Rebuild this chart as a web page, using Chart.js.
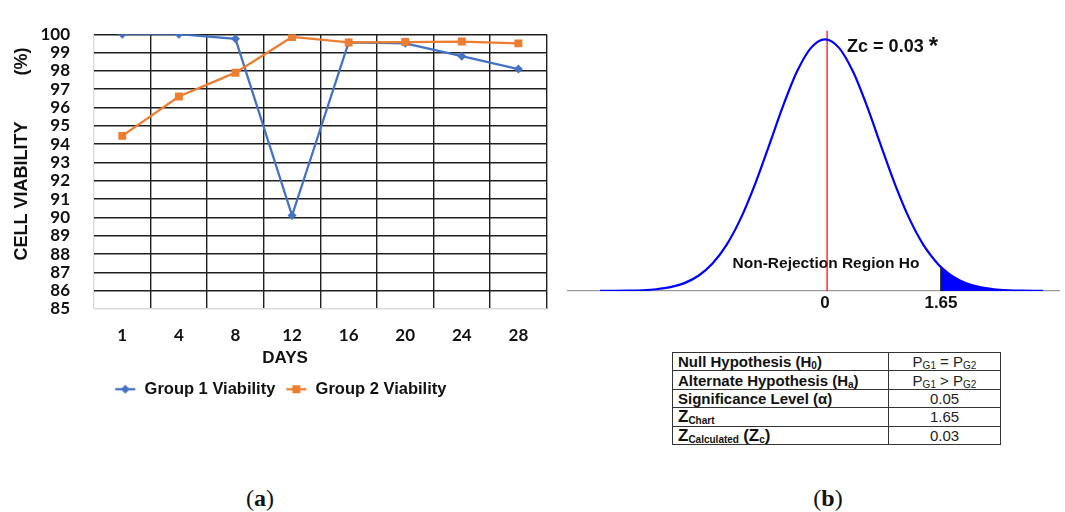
<!DOCTYPE html>
<html>
<head>
<meta charset="utf-8">
<script src="https://cdn.jsdelivr.net/npm/chart.js@4/dist/chart.umd.min.js"></script>
<style>
  html, body { margin: 0; padding: 0; background: #fff; }
  body { width: 1065px; height: 512px; position: relative; overflow: hidden;
         font-family: "Liberation Sans", Arial, sans-serif; color: #111; }
  #viability { position: absolute; left: 0; top: 0; }
  #ztest { position: absolute; left: 567px; top: 0; }
  #hypothesis { position: absolute; left: 672px; top: 352px; width: 329px;
                border-collapse: collapse; table-layout: fixed; font-size: 15px; }
  #hypothesis td { border: 1px solid #333; height: 17.4px; padding: 0 5px; line-height: 17px;
                   white-space: nowrap; overflow: hidden; }
  #hypothesis td.name { width: 205px; font-weight: bold; }
  #hypothesis td.val { text-align: center; color: #222; }
  #hypothesis sub { font-size: 10px; line-height: 0; vertical-align: -2px; }
  #hypothesis .z { font-size: 17px; }
  .panel { position: absolute; top: 484px; font-family: "Liberation Serif", "DejaVu Serif", serif;
           font-size: 24px; line-height: 28px; transform: translateX(-50%); color: #111; }
</style>
</head>
<body>
<canvas id="viability" width="560" height="420"></canvas>
<canvas id="ztest" width="493" height="320"></canvas>
<table id="hypothesis"></table>
<div class="panel" style="left:260px">(<b>a</b>)</div>
<div class="panel" style="left:828px">(<b>b</b>)</div>

<script>
// ---- Cell viability over time ----
const days = ['1', '4', '8', '12', '16', '20', '24', '28'];
const group1Viability = [100, 100, 99.75, 90.1, 99.55, 99.5, 98.8, 98.1];
const group2Viability = [94.45, 96.6, 97.9, 99.85, 99.55, 99.57, 99.6, 99.5];
const viabilityMin = 85;
const viabilityMax = 100;

// ---- Z-test bell curve (height relative to the peak) ----
const curveZ = [-3.2, -3.0, -2.8, -2.6, -2.4, -2.2, -2.0, -1.8, -1.6, -1.4, -1.2, -1.0, -0.8, -0.6, -0.4, -0.2,
                0, 0.2, 0.4, 0.6, 0.8, 1.0, 1.2, 1.4, 1.6, 1.65, 1.8, 2.0, 2.2, 2.4, 2.6, 2.8, 3.0, 3.1];
const curveHeight = [0.00014, 0.00041, 0.00113, 0.00287, 0.00683, 0.0151, 0.0313, 0.0605, 0.109, 0.1833, 0.2875,
                     0.4208, 0.5747, 0.7323, 0.8707, 0.966, 1, 0.966, 0.8707, 0.7323, 0.5747, 0.4208, 0.2875,
                     0.1833, 0.109, 0.0947, 0.0605, 0.0313, 0.0151, 0.00683, 0.00287, 0.00113, 0.00041, 0.00025];
const zAxisLabels = [0, 1.65];
const zChart = 1.65;
const zCalculated = 0.03;
const alphaLevel = 0.05;

const SANS = '"Liberation Sans", Arial, sans-serif';
const BLUE = '#4472C4';
const ORANGE = '#ED7D31';
const GRID = '#202020';
const GRID_EDGE = '#d9d9d9';

// Legend symbols: short line with the series marker on it
function legendSymbol(color, shape) {
  const c = document.createElement('canvas');
  c.width = 22; c.height = 12;
  const g = c.getContext('2d');
  g.strokeStyle = color; g.fillStyle = color; g.lineWidth = 2.3;
  g.beginPath(); g.moveTo(1, 6); g.lineTo(21, 6); g.stroke();
  g.beginPath();
  if (shape === 'diamond') {
    g.moveTo(11, 1.5); g.lineTo(15.5, 6); g.lineTo(11, 10.5); g.lineTo(6.5, 6);
  } else {
    g.rect(7, 2, 8, 8);
  }
  g.closePath(); g.fill();
  return c;
}
const legendSymbols = [legendSymbol(BLUE, 'diamond'), legendSymbol(ORANGE, 'square')];

const viabilityTitles = {
  id: 'viabilityTitles',
  afterDraw(chart) {
    const ctx = chart.ctx;
    ctx.save();
    ctx.fillStyle = '#111';
    ctx.textAlign = 'center';
    ctx.textBaseline = 'middle';
    ctx.font = 'bold 17px ' + SANS;
    ctx.fillText('DAYS', 285, 358);
    ctx.translate(22, 0);
    ctx.rotate(-Math.PI / 2);
    ctx.font = 'bold 18px ' + SANS;
    ctx.fillText('CELL VIABILITY', -191, 0);
    ctx.fillText('(%)', -61.5, 0);
    ctx.restore();
  }
};

const tickFont = { family: 'Lato', weight: 'bold', size: 17 };

new Chart(document.getElementById('viability'), {
  type: 'line',
  data: {
    labels: days,
    datasets: [
      { label: 'Group 1 Viability', data: group1Viability, order: 2,
        borderColor: BLUE, backgroundColor: BLUE, borderWidth: 2.3,
        pointStyle: 'rectRot', pointRadius: 4.5, pointBorderWidth: 0, tension: 0 },
      { label: 'Group 2 Viability', data: group2Viability, order: 1,
        borderColor: ORANGE, backgroundColor: ORANGE, borderWidth: 2.3,
        pointStyle: 'rect', pointRadius: 5.6, pointBorderWidth: 0, tension: 0 }
    ]
  },
  options: {
    responsive: false,
    animation: false,
    devicePixelRatio: 1,
    layout: { padding: { top: 19.7, right: 13.3, bottom: 12.5, left: 14 } },
    scales: {
      x: {
        offset: true,
        grid: { offset: true, drawTicks: false, lineWidth: 1.4,
                color: c => (c.index === 0 ? GRID_EDGE : GRID) },
        border: { display: false },
        ticks: { padding: 16, font: tickFont, color: '#111', autoSkip: false, maxRotation: 0 },
        afterFit: s => { s.height = 62; }
      },
      y: {
        min: viabilityMin, max: viabilityMax,
        grid: { drawTicks: false, lineWidth: 1.4,
                color: c => (c.tick && c.tick.value === viabilityMin ? GRID_EDGE : GRID) },
        border: { display: false },
        ticks: { stepSize: 1, autoSkip: false, padding: 24, font: tickFont, color: '#111' },
        afterFit: s => { s.width = 80; }
      }
    },
    plugins: {
      tooltip: { enabled: false },
      legend: {
        position: 'bottom',
        labels: {
          usePointStyle: true, pointStyleWidth: 22, padding: 10,
          color: '#111', font: { family: SANS, weight: 'bold', size: 16.5 },
          sort: (a, b) => a.datasetIndex - b.datasetIndex,
          generateLabels(chart) {
            const items = Chart.defaults.plugins.legend.labels.generateLabels(chart);
            items.forEach(it => { it.pointStyle = legendSymbols[it.datasetIndex]; });
            return items;
          }
        }
      }
    }
  },
  plugins: [viabilityTitles]
});

// ---- Z-test panel ----
const curvePoints = curveZ.map((z, i) => ({ x: z, y: curveHeight[i] }));
const tailPoints = curvePoints.filter(p => p.x >= zChart);
const criticalHeight = curveHeight[curveZ.indexOf(zChart)];

const zTexts = {
  id: 'zTexts',
  beforeDatasetsDraw(chart) {
    const { ctx, scales: { x } } = chart;
    ctx.save();
    ctx.fillStyle = '#111';
    ctx.textAlign = 'center';
    ctx.textBaseline = 'alphabetic';
    ctx.font = 'bold 15.5px ' + SANS;
    ctx.fillText('Non-Rejection Region Ho', x.getPixelForValue(0) + 1, 268);
    ctx.restore();
  },
  afterDatasetsDraw(chart) {
    const { ctx, scales: { x } } = chart;
    const xc = x.getPixelForValue(zCalculated);
    ctx.save();
    ctx.fillStyle = '#111';
    ctx.textAlign = 'left';
    ctx.textBaseline = 'alphabetic';
    ctx.font = 'bold 18px ' + SANS;
    const txt = 'Zc = ' + zCalculated.toFixed(2);
    ctx.fillText(txt, xc + 20, 52);
    const w = ctx.measureText(txt + ' ').width;
    ctx.font = 'bold 24px ' + SANS;
    ctx.fillText('*', xc + 20 + w, 54);
    ctx.restore();
  }
};

new Chart(document.getElementById('ztest'), {
  type: 'scatter',
  data: {
    datasets: [
      { label: 'Rejection region', data: tailPoints, showLine: true, fill: 'origin',
        backgroundColor: '#0000FF', borderColor: '#0000FF', borderWidth: 1,
        pointRadius: 0, cubicInterpolationMode: 'monotone' },
      { label: 'Normal curve', data: curvePoints, showLine: true, fill: false,
        borderColor: '#0000FF', borderWidth: 2.2, pointRadius: 0, cubicInterpolationMode: 'monotone' },
      { label: 'Critical value', data: [{ x: zChart, y: 0 }, { x: zChart, y: criticalHeight }],
        showLine: true, borderColor: '#000', borderWidth: 1.5, pointRadius: 0 },
      { label: 'Calculated Z', data: [{ x: zCalculated, y: 0 }, { x: zCalculated, y: 1.034 }],
        showLine: true, borderColor: '#FF0000', borderWidth: 1.2, pointRadius: 0 }
    ]
  },
  options: {
    responsive: false,
    animation: false,
    devicePixelRatio: 1,
    layout: { padding: { top: 25, right: 0, bottom: 0, left: 0 } },
    scales: {
      x: {
        type: 'linear', min: -3.67, max: 3.343,
        grid: { display: false, drawTicks: false },
        border: { display: true, color: '#9a9a9a', width: 1.3 },
        afterBuildTicks: s => { s.ticks = zAxisLabels.map(v => ({ value: v })); },
        ticks: { padding: 2, color: '#111', font: { family: SANS, weight: 'bold', size: 17 },
                 autoSkip: false, maxRotation: 0, callback: v => String(v) },
        afterFit: s => { s.height = 29; }
      },
      y: { display: false, min: 0, max: 1.0568 }
    },
    plugins: { legend: { display: false }, tooltip: { enabled: false } }
  },
  plugins: [zTexts]
});

// ---- Hypothesis table ----
const hypothesisRows = [
  ['Null Hypothesis (H<sub>0</sub>)', 'P<sub>G1</sub> = P<sub>G2</sub>'],
  ['Alternate Hypothesis (H<sub>a</sub>)', 'P<sub>G1</sub> &gt; P<sub>G2</sub>'],
  ['Significance Level (α)', alphaLevel.toFixed(2)],
  ['<span class="z">Z</span><sub>Chart</sub>', zChart.toFixed(2)],
  ['<span class="z">Z</span><sub>Calculated</sub> <span class="z">(Z</span><sub>c</sub><span class="z">)</span>', zCalculated.toFixed(2)]
];
document.getElementById('hypothesis').innerHTML = hypothesisRows
  .map(r => '<tr><td class="name">' + r[0] + '</td><td class="val">' + r[1] + '</td></tr>').join('');
</script>
</body>
</html>
